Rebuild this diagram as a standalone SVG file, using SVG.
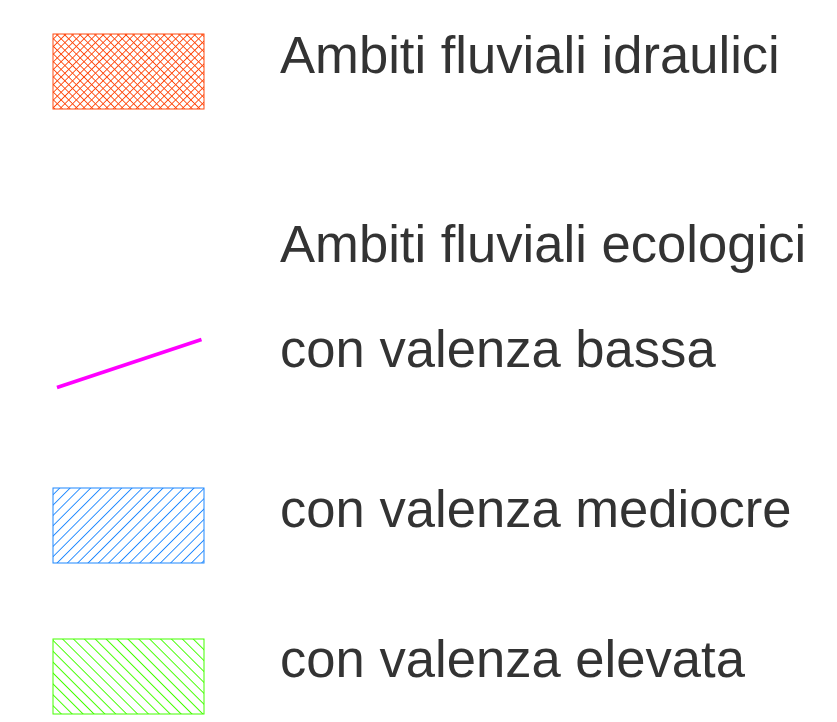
<svg xmlns="http://www.w3.org/2000/svg" width="837" height="722" viewBox="0 0 837 722">
<style>
text{font-family:"Liberation Sans",Arial,sans-serif;font-size:52.6px;fill:#333333}
.h{fill:none;stroke-width:1;shape-rendering:crispEdges}
</style>
<defs>
<pattern id="cross" patternUnits="userSpaceOnUse" width="5.4" height="5.4" patternTransform="rotate(45)">
<path class="h" d="M0,-1V6.4M-1,0H6.4" stroke="#FF4A10"/>
</pattern>
<pattern id="blue" patternUnits="userSpaceOnUse" width="7.3" height="7.3" patternTransform="rotate(45)">
<path class="h" d="M0,-1V8.3" stroke="#1E88FF"/>
</pattern>
<pattern id="green" patternUnits="userSpaceOnUse" width="7.7" height="7.7" patternTransform="rotate(-45)">
<path class="h" d="M0,-1V8.7" stroke="#44FF00"/>
</pattern>
</defs>
<g id="idraulici">
<rect x="53" y="34" width="151" height="75" fill="url(#cross)" stroke="#FF4A10" stroke-width="1"/>
<text x="280" y="72.7">Ambiti fluviali idraulici</text>
</g>
<g id="ecologici">
<text x="280" y="261.7">Ambiti fluviali ecologici</text>
</g>
<g id="bassa">
<line x1="57" y1="387.5" x2="201.5" y2="339.5" stroke="#FF00FF" stroke-width="3.6"/>
<text x="280" y="366.7">con valenza bassa</text>
</g>
<g id="mediocre">
<rect x="53" y="488" width="151" height="75" fill="url(#blue)" stroke="#1E88FF" stroke-width="1"/>
<text x="280" y="526.7">con valenza mediocre</text>
</g>
<g id="elevata">
<rect x="53" y="639" width="151" height="75" fill="url(#green)" stroke="#44FF00" stroke-width="1"/>
<text x="280" y="677.3">con valenza elevata</text>
</g>
<g id="connectors"/>
</svg>
